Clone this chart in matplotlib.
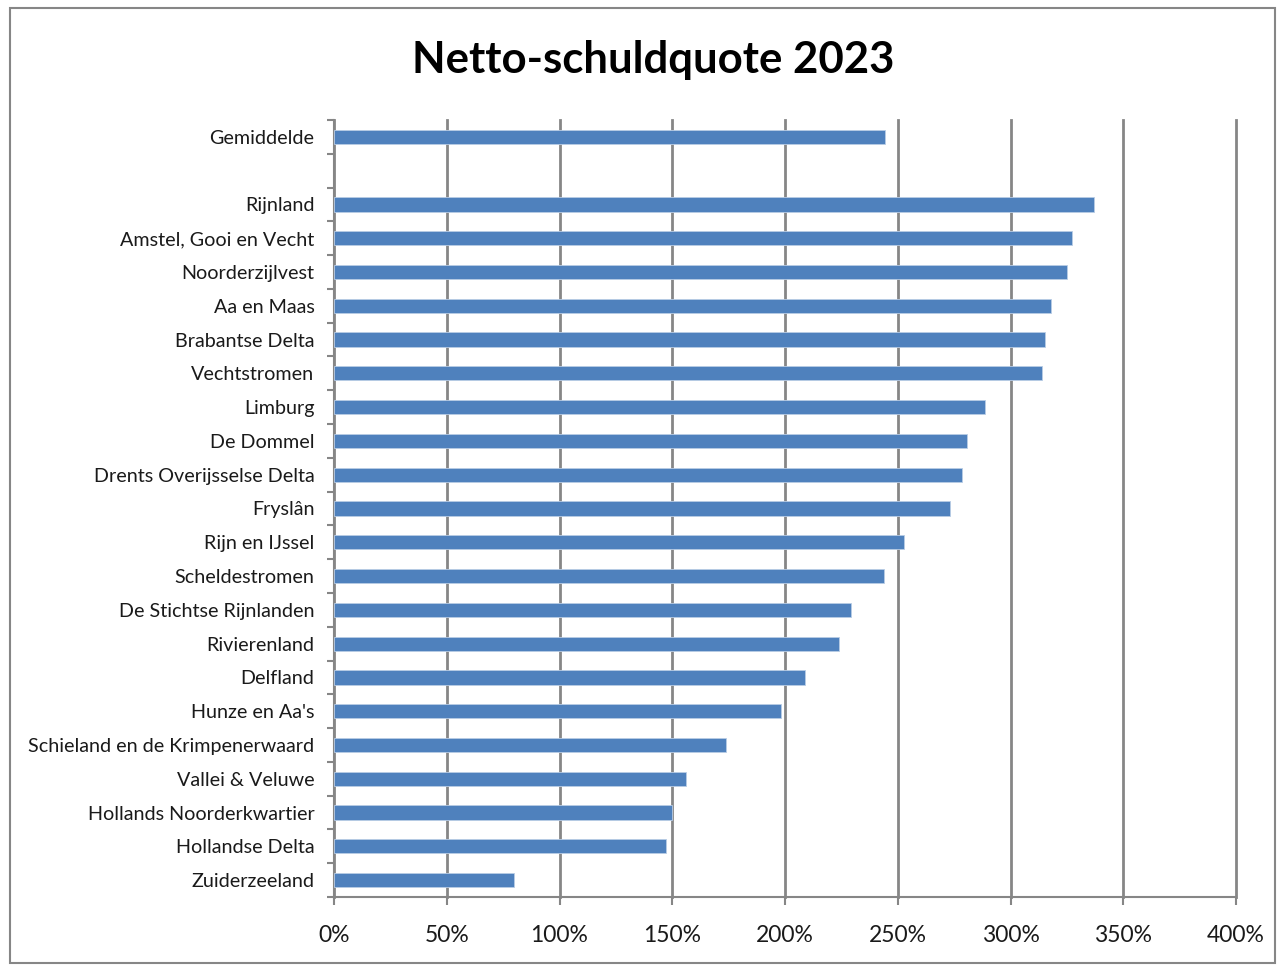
import numpy as np
import matplotlib.pyplot as plt
from matplotlib.patches import Rectangle
from matplotlib.ticker import FuncFormatter

plt.rcParams['font.family'] = ['Lato', 'DejaVu Sans']

# categories from top to bottom ('' is the empty spacer row)
categories = ['Gemiddelde', '', 'Rijnland', 'Amstel, Gooi en Vecht', 'Noorderzijlvest',
              'Aa en Maas', 'Brabantse Delta', 'Vechtstromen', 'Limburg', 'De Dommel',
              'Drents Overijsselse Delta', 'Fryslân', 'Rijn en IJssel', 'Scheldestromen',
              'De Stichtse Rijnlanden', 'Rivierenland', 'Delfland', "Hunze en Aa's",
              'Schieland en de Krimpenerwaard', 'Vallei & Veluwe',
              'Hollands Noorderkwartier', 'Hollandse Delta', 'Zuiderzeeland']
# netto-schuldquote in procent
values = [244.5, np.nan, 336.9, 327.1, 324.9, 317.9, 315.1, 313.9, 288.9, 280.9,
          278.7, 273.1, 252.6, 244.0, 229.4, 224.0, 208.8, 198.4, 174.0, 155.9,
          149.9, 147.3, 79.7]
xticks = [0, 50, 100, 150, 200, 250, 300, 350, 400]

W, H = 1278, 965
fig = plt.figure(figsize=(W / 100, H / 100), dpi=100)
ax = fig.add_axes([334 / W, (H - 897) / H, (1236 - 334) / W, (897 - 120) / H])

n = len(categories)
ypos = np.arange(n)
ax.barh(ypos, values, height=0.42, color='#4F81BD', edgecolor='#B9CDE5',
        linewidth=0.6, zorder=3)

ax.set_ylim(n - 0.5, -0.5)
ax.set_xlim(0, 400)
ax.set_xticks(xticks)
ax.xaxis.set_major_formatter(FuncFormatter(lambda v, p: f'{v:.0f}%'))
ax.grid(axis='x', color='#868686', linewidth=2, zorder=0)
for gl in ax.get_xgridlines():
    gl.set_clip_on(False)

# category labels and boundary tick marks like the Excel original
ax.set_yticks(ypos)
ax.set_yticklabels(categories, fontsize=14.2, color='#1a1a1a')
ax.tick_params(axis='y', which='major', length=0, pad=14)
ax.set_yticks(np.arange(-0.5, n, 1), minor=True)
ax.tick_params(axis='y', which='minor', length=5, width=1.5, color='#868686')
ax.tick_params(axis='x', length=6, width=1.5, color='#868686', labelsize=16.5,
               labelcolor='#1a1a1a', pad=14)

for side in ['top', 'right']:
    ax.spines[side].set_visible(False)
ax.spines['left'].set_color('#868686')
ax.spines['left'].set_linewidth(1.5)
ax.spines['bottom'].set_color('#868686')
ax.spines['bottom'].set_linewidth(1.5)

fig.text(653 / W, 1 - 60 / H, 'Netto-schuldquote 2023', ha='center', va='center',
         fontsize=31.5, fontweight='bold', color='black')

# outer chart border
fig.patches.append(Rectangle((10 / W, 2 / H), 1265 / W, 955 / H, transform=fig.transFigure,
                             fill=False, edgecolor='#868686', linewidth=1.5))

fig.savefig('out.png', dpi=100)
